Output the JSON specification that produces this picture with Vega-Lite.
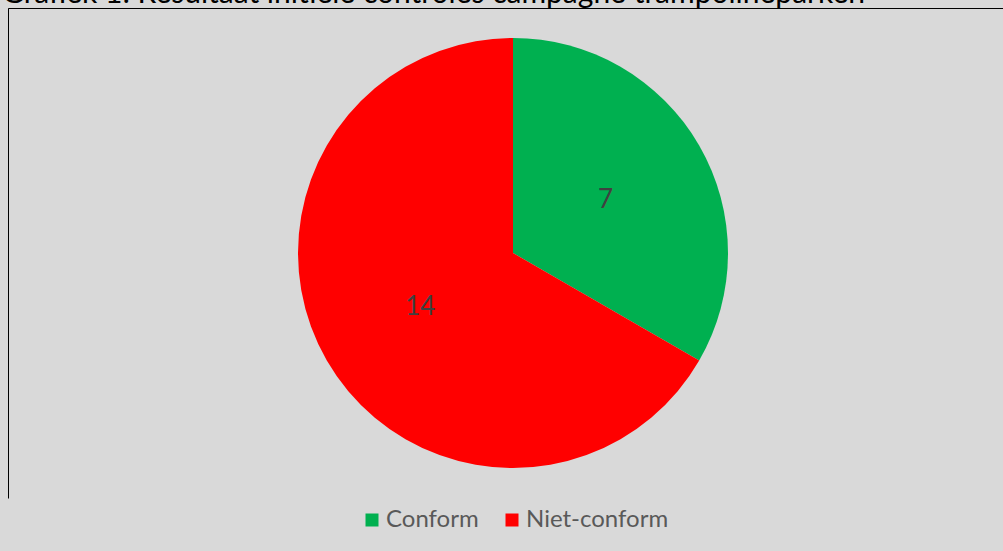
{
  "$schema": "https://vega.github.io/schema/vega-lite/v6.json",
  "autosize": {"type": "none"},
  "padding": {"left": 8, "top": 8, "right": 0, "bottom": 53},
  "width": 1010,
  "height": 490,
  "background": "#D9D9D9",
  "title": {
    "text": "Grafiek 1: Resultaat initiële controles campagne trampolineparken",
    "anchor": "start",
    "frame": "group",
    "orient": "top",
    "baseline": "alphabetic",
    "offset": 0,
    "dx": -6,
    "dy": 25,
    "font": "Lato",
    "fontSize": 30,
    "fontWeight": "normal",
    "color": "#000000"
  },
  "view": {"stroke": "#000000", "strokeWidth": 1, "strokeDash": [1500, 1010, 490]},
  "data": {
    "values": [
      {"categorie": "Conform", "aantal": 7, "volgorde": 1},
      {"categorie": "Niet-conform", "aantal": 14, "volgorde": 2}
    ]
  },
  "encoding": {
    "theta": {"field": "aantal", "type": "quantitative", "stack": true},
    "order": {"field": "volgorde", "type": "quantitative"}
  },
  "layer": [
    {
      "mark": {"type": "arc", "outerRadius": 215},
      "encoding": {
        "color": {
          "field": "categorie",
          "type": "nominal",
          "scale": {"domain": ["Conform", "Niet-conform"], "range": ["#00B050", "#FF0000"]},
          "legend": {
            "orient": "none",
            "direction": "horizontal",
            "legendX": 352,
            "legendY": 500,
            "title": null,
            "symbolType": "square",
            "symbolSize": 169,
            "symbolStrokeWidth": 0,
            "labelFont": "Lato",
            "labelFontSize": 24,
            "labelColor": "#595959",
            "labelOffset": 2,
            "columnPadding": 21
          }
        }
      }
    },
    {
      "mark": {"type": "text", "radius": 107, "font": "Lato", "fontSize": 26, "color": "#404040"},
      "encoding": {"text": {"field": "aantal", "type": "quantitative"}}
    }
  ]
}
